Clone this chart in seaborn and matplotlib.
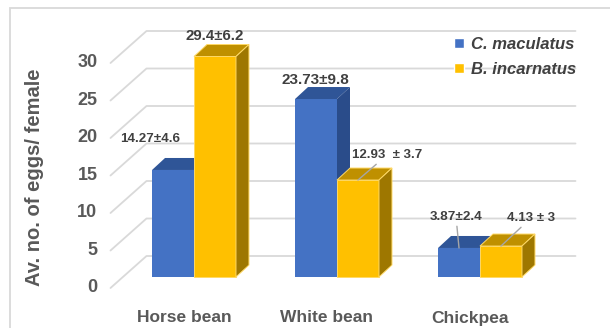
import pandas as pd
import seaborn as sns
import matplotlib.pyplot as plt
from matplotlib.patches import Polygon, Rectangle
from matplotlib.lines import Line2D
from matplotlib.transforms import IdentityTransform

# data
hosts = ['Horse bean', 'White bean', 'Chickpea']
species = ['C. maculatus', 'B. incarnatus']
c_maculatus = [14.27, 23.73, 3.87]
b_incarnatus = [29.4, 12.93, 4.13]
c_mac_labels = ['14.27±4.6', '23.73±9.8', '3.87±2.4']
b_inc_labels = ['29.4±6.2', '12.93  ± 3.7', '4.13 ± 3']
y_ticks = [0, 5, 10, 15, 20, 25, 30]

front_colors = ['#4472C4', '#FFC000']
top_colors = ['#2F5597', '#BF9000']
side_colors = ['#2A4C8A', '#9E7700']
grid_color = '#D9D9D9'
text_color = '#595959'
label_color = '#404040'

sns.set_style('white')
plt.rcParams['font.family'] = ['Liberation Sans', 'DejaVu Sans']

df = pd.DataFrame({
    'host': hosts * 2,
    'species': [species[0]] * len(hosts) + [species[1]] * len(hosts),
    'eggs': c_maculatus + b_incarnatus,
})

fig = plt.figure(figsize=(6.1, 3.28), dpi=100)
ax = fig.add_axes([0, 0, 1, 1])
sns.barplot(data=df, x='host', y='eggs', hue='species', hue_order=species,
            palette=front_colors, width=0.587, errorbar=None, saturation=1,
            legend=False, ax=ax)
ax.set_xlim(-194 / 143, 416 / 143)
ax.set_ylim(-6.8, 277 / 7.5)
ax.axis('off')


def disp(x, y):
    return ax.transData.transform((x, y))


# walls: left wall diagonals + back wall horizontals
for v in y_ticks:
    fx, fy = disp(-0.5, v)
    ex, ey = disp(2.5, v)
    ax.add_line(Line2D([fx - 12, fx + 24, ex + 24], [fy - 11, fy + 21, ey + 21],
                       color=grid_color, lw=1.3, zorder=1, transform=IdentityTransform()))
    fig.text(fx - 25, fy - 11, str(v), transform=IdentityTransform(), ha='right',
             va='center', fontsize=13, fontweight='bold', color=text_color)

for i, host in enumerate(hosts):
    cx, cy = disp(i, 0)
    fig.text(cx - 10, cy - 41, host, transform=IdentityTransform(), ha='center',
             va='center', fontsize=12.5, fontweight='bold', color=text_color)

fig.text(35 / 610, 1 - 177 / 328, 'Av. no. of eggs/ female', rotation=90, ha='center',
         va='center', fontsize=14.5, fontweight='bold', color=text_color)

# 3d faces of the bars
depth = (13, 12)
for k, cont in enumerate(ax.containers):
    edge = '#FFD966' if k == 1 else 'none'
    for bar in cont:
        bar.set_zorder(2 + k)
        bar.set_edgecolor(edge)
        bar.set_linewidth(0.7)
        x0 = bar.get_x()
        x1 = x0 + bar.get_width()
        h = bar.get_height()
        a = disp(x0, h)
        b = disp(x1, h)
        c = disp(x1, 0)
        top = [a, b, b + depth, a + depth]
        side = [c, b, b + depth, c + depth]
        ax.add_patch(Polygon(top, closed=True, facecolor=top_colors[k], edgecolor=edge,
                             lw=0.7, zorder=2 + k + 0.1, transform=IdentityTransform()))
        ax.add_patch(Polygon(side, closed=True, facecolor=side_colors[k], edgecolor=edge,
                             lw=0.7, zorder=2 + k + 0.1, transform=IdentityTransform()))

# value labels
bar_labels = [c_mac_labels, b_inc_labels]
label_sizes = [[9.6, 11, 9.7], [10.8, 9.5, 9.5]]
label_offsets = [[(-23, 31), (-1, 19), (-3, 31)], [(0, 20), (29, 25), (30, 28)]]
leaders = [[False, False, True], [False, True, True]]
for k, cont in enumerate(ax.containers):
    for i, bar in enumerate(cont):
        xc = bar.get_x() + bar.get_width() / 2
        arrow = None
        if leaders[k][i]:
            arrow = dict(arrowstyle='-', color='#A6A6A6', lw=1, shrinkA=0, shrinkB=0)
        ax.annotate(bar_labels[k][i], xy=(xc, bar.get_height()), xytext=label_offsets[k][i],
                    textcoords='offset pixels', ha='center', va='center',
                    fontsize=label_sizes[k][i], fontweight='bold', color=label_color,
                    arrowprops=arrow, zorder=6)

handles = [Rectangle((0, 0), 1, 1, facecolor=c) for c in front_colors]
ax.legend(handles, species, loc='upper left', bbox_to_anchor=(454 / 610, 1 - 37 / 328),
          bbox_transform=fig.transFigure, frameon=False,
          prop=dict(family='Liberation Sans', weight='bold', style='italic', size=12),
          labelcolor=label_color, handlelength=0.6, handleheight=0.6,
          handletextpad=0.4, labelspacing=0.6, borderpad=0, borderaxespad=0)

fig.add_artist(Rectangle((10 / 610, -0.1), 1.2, 1 - 8 / 328 + 0.1, transform=fig.transFigure,
                         fill=False, edgecolor=grid_color, lw=1.3))

fig.savefig('out.png', dpi=100)
